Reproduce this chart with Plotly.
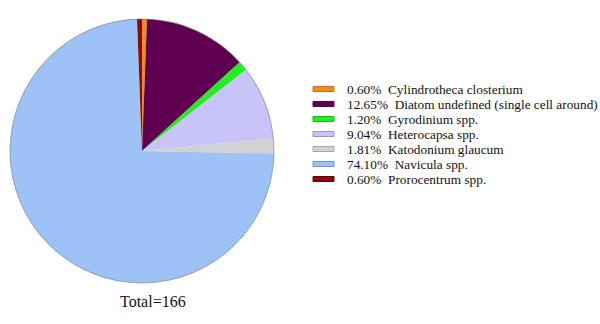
import plotly.graph_objects as go

W, H = 600, 324

labels = ["Cylindrotheca closterium", "Diatom undefined (single cell around)",
          "Gyrodinium spp.", "Heterocapsa spp.", "Katodonium glaucum",
          "Navicula spp.", "Prorocentrum spp."]
counts = [1, 21, 2, 15, 3, 123, 1]
colors = ["#F28A24", "#600050", "#22EE22", "#C8C4FA", "#D2D2D2", "#9CC2F6", "#8B0A0A"]
borders = ["#D97010", "#4A0040", "#10C010", "#9A96C8", "#A8A8A8", "#6E96C8", "#6A0000"]

total = sum(counts)

fig = go.Figure()
fig.add_trace(go.Pie(
    labels=labels, values=counts, sort=False, direction="clockwise", rotation=0,
    marker=dict(colors=colors, line=dict(width=0)),
    textinfo="none", hoverinfo="label+percent", showlegend=False,
    domain=dict(x=[10 / W, 274 / W], y=[1 - 283 / H, 1 - 19 / H]),
))

shapes = [dict(type="circle", xref="paper", yref="paper",
               x0=10 / W, x1=274 / W, y0=1 - 283 / H, y1=1 - 19 / H,
               line=dict(color="rgba(120,120,120,0.6)", width=1))]
annotations = []
y0 = 89
for i, (lab, c) in enumerate(zip(labels, counts)):
    yc = y0 + i * 15
    shapes.append(dict(type="rect", xref="paper", yref="paper",
                       x0=313 / W, x1=334 / W, y0=1 - (yc + 2.5) / H, y1=1 - (yc - 2.5) / H,
                       fillcolor=colors[i], line=dict(color=borders[i], width=1)))
    annotations.append(dict(xref="paper", yref="paper", x=345 / W, y=1 - yc / H,
                            xanchor="left", yanchor="middle", showarrow=False,
                            text=f"{100 * c / total:.2f}%&nbsp;&nbsp;{lab}",
                            font=dict(family="Liberation Serif", size=13.3, color="#111")))
annotations.append(dict(xref="paper", yref="paper", x=153 / W, y=1 - 301 / H,
                        xanchor="center", yanchor="middle", showarrow=False,
                        text=f"Total={total}",
                        font=dict(family="Liberation Serif", size=16, color="#111")))

fig.update_layout(width=W, height=H, margin=dict(l=0, r=0, t=0, b=0),
                  paper_bgcolor="white", plot_bgcolor="white",
                  shapes=shapes, annotations=annotations)
fig.write_html("out.html")
